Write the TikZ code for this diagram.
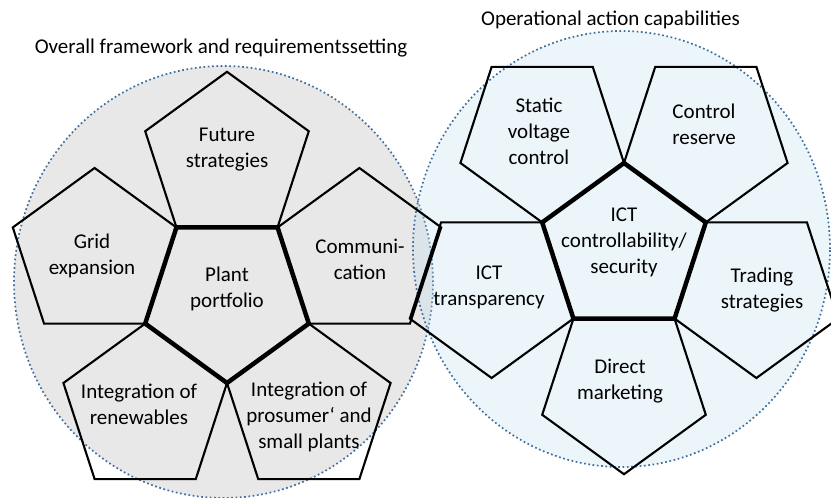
\documentclass[tikz,border=0pt]{standalone}
\usepackage{fontspec}
\setmainfont{Carlito}
\usetikzlibrary{shapes.geometric}
\definecolor{leftfill}{HTML}{E8E8E8}
\definecolor{rightfill}{RGB}{185,218,236}
\definecolor{dotblue}{HTML}{3E6E9E}
\begin{document}
\begin{tikzpicture}[x=1pt,y=-1pt,
  pent/.style={regular polygon, regular polygon sides=5, minimum size=172pt,
    inner sep=0pt, outer sep=0pt, draw=black, line width=2.1pt},
  pentdown/.style={pent, shape border rotate=180},
  core/.style={line width=4.5pt},
  lbl/.style={font=\fontsize{21}{26}\selectfont, align=center, inner sep=0pt},
  zone/.style={ellipse, inner sep=0pt, outer sep=0pt, minimum width=419pt,
    minimum height=432pt, draw=dotblue, line width=1.7pt,
    dash pattern=on 1.7pt off 2.6pt}]
\useasboundingbox (0,0) rectangle (831,498);
\clip (0,0) rectangle (831,498);
% zones
\node[zone, fill=leftfill] (leftzone) at (223.5,282) {};
\node[zone, fill=rightfill, fill opacity=0.27, draw opacity=1, minimum width=417pt, minimum height=436pt] (rightzone) at (621.5,249) {};
% left cluster
\node[pent] (future) at (227,157.8) {};
\node[pent] (grid) at (94.6,254) {};
\node[pent] (comm) at (359.4,254) {};
\node[pent] (renew) at (145.2,409.6) {};
\node[pent] (prosumer) at (308.8,409.6) {};
\node[pentdown, core] (plant) at (227,297) {};
% right cluster
\node[pentdown] (voltage) at (542.2,136.4) {};
\node[pentdown] (reserve) at (705.8,136.4) {};
\node[pentdown] (transp) at (491.6,292) {};
\node[pentdown] (trading) at (756.4,292) {};
\node[pentdown] (direct) at (624,388.2) {};
\node[pent, core] (ict) at (624,249) {};
% labels
\node[lbl] (tleft) at (221,48) {Overall framework and requirementssetting};
\node[lbl] (tright) at (610.5,20) {Operational action capabilities};
\node[lbl] (lfuture) at (227,150) {Future\\strategies};
\node[lbl] (lgrid) at (92,256) {Grid\\expansion};
\node[lbl] (lcomm) at (360,259) {Communi-\\cation};
\node[lbl] (lplant) at (227,289) {Plant\\portfolio};
\node[lbl] (lrenew) at (139,404) {Integration of\\renewables};
\node[lbl] (lprosumer) at (309,417) {Integration of\\prosumer‘ and\\small plants};
\node[lbl] (lvoltage) at (539,131) {Static\\voltage\\control};
\node[lbl] (lreserve) at (704,124) {Control\\reserve};
\node[lbl] (lict) at (624,242) {ICT\\controllability/\\security};
\node[lbl] (ltransp) at (489,287) {ICT\\transparency};
\node[lbl] (ltrading) at (762,290) {Trading\\strategies};
\node[lbl] (ldirect) at (620,381) {Direct\\marketing};
\end{tikzpicture}
\end{document}
